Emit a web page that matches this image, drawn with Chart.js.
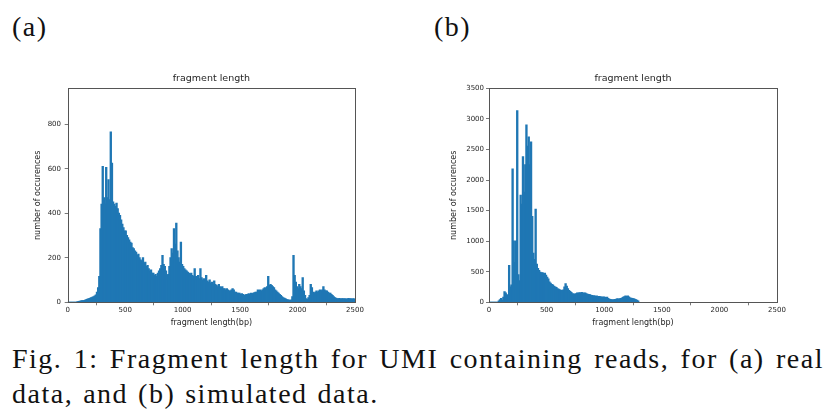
<!DOCTYPE html>
<html>
<head>
<meta charset="utf-8">
<script src="https://cdn.jsdelivr.net/npm/chart.js@4/dist/chart.umd.min.js"></script>
<style>
  html, body { margin: 0; padding: 0; background: #fff; }
  #wrap { position: relative; width: 836px; height: 420px; overflow: hidden; background: #fff; }
  canvas { position: absolute; }
  .serif { position: absolute; font-family: "Liberation Serif", "Times New Roman", serif; font-size: 28px; line-height: 28px; color: #111; white-space: nowrap; letter-spacing: 1.5px; word-spacing: 1.5px; }
  #line1 { display: flex; justify-content: space-between; width: 812px; letter-spacing: 1.5px; }
</style>
</head>
<body>
<div id="wrap">
  <div class="serif" style="left:12px; top:13px;">(a)</div>
  <div class="serif" style="left:434px; top:13px;">(b)</div>
  <canvas id="chartA" width="400" height="280" style="left:0px; top:60px;"></canvas>
  <canvas id="chartB" width="416" height="280" style="left:420px; top:60px;"></canvas>
  <div class="serif" id="line1" style="left:12px; top:345px;"><span>Fig.</span><span>1:</span><span>Fragment</span><span>length</span><span>for</span><span>UMI</span><span>containing</span><span>reads,</span><span>for</span><span>(a)</span><span>real</span></div>
  <div class="serif" style="left:12px; top:380px;">data, and (b) simulated data.</div>
</div>
<script>
// ---- data ----
const binWidth = 10; // bp per histogram bin, bins start at 0
const xTicks = [0, 500, 1000, 1500, 2000, 2500];
const yTicksA = [0, 200, 400, 600, 800];
const yTicksB = [0, 500, 1000, 1500, 2000, 2500, 3000, 3500];
const chartTitle = "fragment length";
const xLabel = "fragment length(bp)";
const yLabel = "number of occurences";

// (a) real data, counts per 10 bp bin from 0 to 2500
const realCounts = [
  0,0,0,0,0,0,0,0,2,3,
  4,5,6,7,8,10,12,14,15,18,
  20,22,25,28,32,45,65,115,330,440,
  610,470,440,605,470,550,460,765,625,450,
  440,430,445,420,400,390,370,350,335,320,
  320,300,290,280,270,265,245,240,230,225,
  210,215,200,190,185,200,175,180,160,165,
  150,140,145,130,130,120,125,115,130,140,
  150,165,210,170,160,140,120,125,160,200,
  240,220,330,260,355,230,200,180,270,170,
  160,150,145,140,135,130,125,130,120,115,
  150,115,110,120,105,150,110,100,105,95,
  120,95,90,100,85,90,80,95,80,75,
  70,80,70,65,70,60,60,55,60,55,
  50,50,55,60,55,45,45,40,40,40,
  35,38,35,30,32,35,35,38,35,40,
  38,40,42,45,45,55,50,55,50,55,
  60,65,60,70,115,75,80,75,70,65,
  55,50,45,40,35,30,25,20,18,15,
  12,10,10,8,10,25,210,120,90,70,
  60,80,70,60,110,50,30,15,12,20,
  30,80,65,45,40,45,50,45,50,55,
  50,55,70,55,50,50,45,40,40,35,
  30,25,20,18,15,15,17,14,16,15,
  14,16,13,15,17,14,15,13,16,14
];

// (b) simulated data, counts per 10 bp bin from 0 to 1300 (nothing beyond)
const simCounts = [
  0,0,0,0,0,0,0,0,20,40,
  60,30,80,170,150,120,100,600,250,280,
  2180,1000,650,1000,3130,450,350,1750,1600,2380,
  1800,2250,2900,2550,2700,2250,2620,1400,800,700,
  1520,620,550,520,490,480,480,470,475,440,
  410,380,330,310,290,280,260,250,240,220,
  210,200,195,190,200,250,300,260,220,190,
  175,160,140,135,130,140,150,145,155,150,
  160,150,145,150,140,130,125,120,115,110,
  100,105,95,100,90,95,90,85,80,85,
  80,75,80,60,50,45,40,38,40,45,
  50,55,50,55,60,70,80,90,100,95,
  100,85,70,65,60,55,50,40,30,20
];

// ---- chart building ----
const barColor = "#1f77b4";
const textColor = "#262626";
const spineColor = "#555555";

const boxPlugin = {
  id: "box",
  afterDatasetsDraw(chart) {
    const {ctx, chartArea: a} = chart;
    ctx.save();
    ctx.strokeStyle = spineColor;
    ctx.lineWidth = 1;
    ctx.strokeRect(Math.round(a.left) + 0.5, Math.round(a.top) + 0.5,
                   Math.round(a.right - a.left), Math.round(a.bottom - a.top));
    ctx.restore();
  }
};

function toPoints(counts) {
  return counts.map((v, i) => ({ x: i * binWidth + binWidth / 2, y: v }));
}

const plainNumber = (v) => String(v);

function makeChart(id, counts, yMax, yTickList, cfg) {
  return new Chart(document.getElementById(id), {
    type: "bar",
    data: {
      datasets: [{
        data: toPoints(counts),
        backgroundColor: barColor,
        borderWidth: 0,
        inflateAmount: 0.6,
        barPercentage: 1,
        categoryPercentage: 1,
        grouped: false
      }]
    },
    options: {
      responsive: false,
      animation: false,
      devicePixelRatio: 1,
      layout: { padding: { left: 0, right: cfg.padRight, top: 0, bottom: 0 } },
      plugins: {
        legend: { display: false },
        tooltip: { enabled: false },
        title: {
          display: true,
          text: chartTitle,
          fullSize: false,
          color: textColor,
          font: { family: "DejaVu Sans", size: 9.5, weight: "normal" },
          padding: { top: 13.3, bottom: 3.6 }
        }
      },
      scales: {
        x: {
          type: "linear",
          min: 0, max: 2500,
          offset: false,
          afterBuildTicks(scale) { scale.ticks = xTicks.map(v => ({ value: v })); },
          afterFit(scale) { scale.height = 37.7; },
          ticks: { color: textColor, font: { family: "DejaVu Sans", size: 7 }, padding: 0.5, maxRotation: 0, autoSkip: false, callback: plainNumber },
          grid: { display: true, drawOnChartArea: false, drawTicks: true, tickLength: 3, color: spineColor, lineWidth: 0.8 },
          border: { display: false },
          title: { display: true, text: xLabel, color: textColor, font: { family: "DejaVu Sans", size: 8 }, padding: { top: 0, bottom: 12.5 } }
        },
        y: {
          type: "linear",
          min: 0, max: yMax,
          afterBuildTicks(scale) { scale.ticks = yTickList.map(v => ({ value: v })); },
          afterFit(scale) { scale.width = cfg.yWidth; },
          ticks: { color: textColor, font: { family: "DejaVu Sans", size: 7 }, padding: cfg.yTickPad, autoSkip: false, callback: plainNumber },
          grid: { display: true, drawOnChartArea: false, drawTicks: true, tickLength: 3, color: spineColor, lineWidth: 0.8 },
          border: { display: false },
          title: { display: true, text: yLabel, color: textColor, font: { family: "DejaVu Sans", size: 8 }, padding: { top: cfg.yTitlePad, bottom: 0 } }
        }
      }
    },
    plugins: [boxPlugin]
  });
}

makeChart("chartA", realCounts, 962, yTicksA, { padRight: 45, yWidth: 67.7, yTickPad: 3.7, yTitlePad: 33.5 });
makeChart("chartB", simCounts, 3500, yTicksB, { padRight: 59, yWidth: 69, yTickPad: 2, yTitlePad: 29.5 });
</script>
</body>
</html>
